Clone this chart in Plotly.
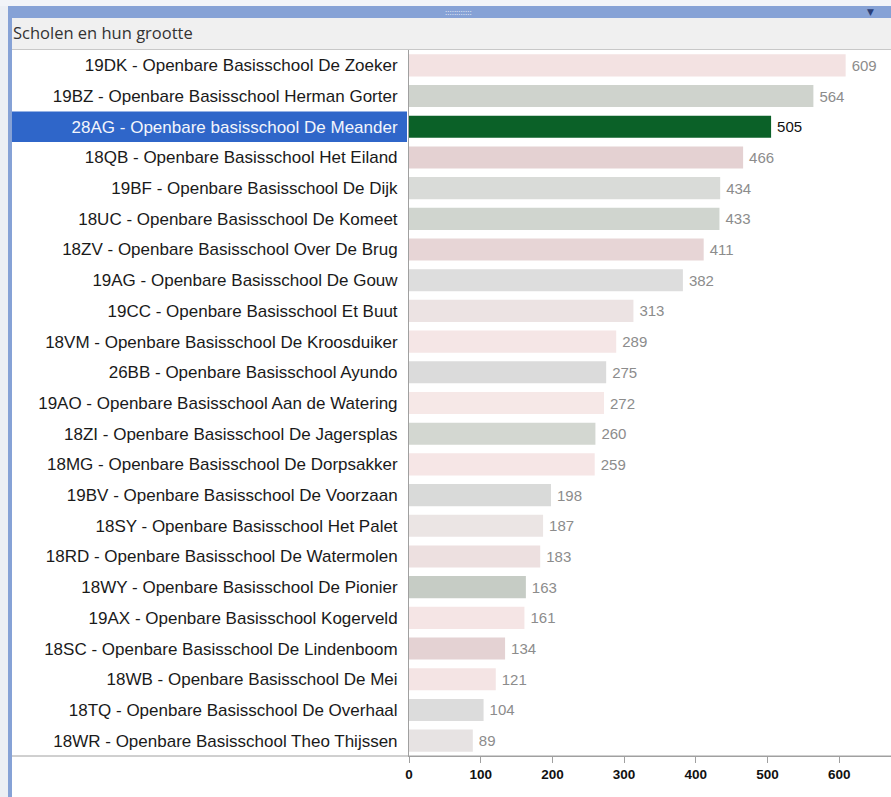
import plotly.graph_objects as go

schools = [
    "19DK - Openbare Basisschool De Zoeker",
    "19BZ - Openbare Basisschool Herman Gorter",
    "28AG - Openbare basisschool De Meander",
    "18QB - Openbare Basisschool Het Eiland",
    "19BF - Openbare Basisschool De Dijk",
    "18UC - Openbare Basisschool De Komeet",
    "18ZV - Openbare Basisschool Over De Brug",
    "19AG - Openbare Basisschool De Gouw",
    "19CC - Openbare Basisschool Et Buut",
    "18VM - Openbare Basisschool De Kroosduiker",
    "26BB - Openbare Basisschool Ayundo",
    "19AO - Openbare Basisschool Aan de Watering",
    "18ZI - Openbare Basisschool De Jagersplas",
    "18MG - Openbare Basisschool De Dorpsakker",
    "19BV - Openbare Basisschool De Voorzaan",
    "18SY - Openbare Basisschool Het Palet",
    "18RD - Openbare Basisschool De Watermolen",
    "18WY - Openbare Basisschool De Pionier",
    "19AX - Openbare Basisschool Kogerveld",
    "18SC - Openbare Basisschool De Lindenboom",
    "18WB - Openbare Basisschool De Mei",
    "18TQ - Openbare Basisschool De Overhaal",
    "18WR - Openbare Basisschool Theo Thijssen",
]
students = [609, 564, 505, 466, 434, 433, 411, 382, 313, 289, 275, 272,
            260, 259, 198, 187, 183, 163, 161, 134, 121, 104, 89]
selected_school = "28AG - Openbare basisschool De Meander"
x_ticks = [0, 100, 200, 300, 400, 500, 600]

bar_colors = ["#f3e2e2", "#cfd3cd", "#0b6128", "#e4d1d2", "#d9dbd8", "#d0d5cf",
              "#e7d5d6", "#dddddd", "#ece3e3", "#f5e6e6", "#dbdbdb", "#f6e8e7",
              "#d3d7d1", "#f6e6e6", "#d9dad9", "#ebe5e4", "#ede0e0", "#c6ccc5",
              "#f5e5e5", "#e4d2d3", "#f4e4e4", "#dcdcdc", "#e7e3e3"]

W, H = 891, 797
L, R, T, B = 409, 891, 50, 756
PW, PH = R - L, B - T


def px(x):
    return (x - L) / PW


def py(y):
    return (B - y) / PH


sel_idx = schools.index(selected_school)
label_colors = ["#111111" if s == selected_school else "#8c8c8c" for s in schools]
ticktext = [f"<span style='color:#f2f5fc'>{s}</span>" if s == selected_school else s
            for s in schools]

fig = go.Figure(go.Bar(
    y=list(range(len(schools))),
    x=students,
    orientation="h",
    width=0.72,
    marker=dict(color=bar_colors, line=dict(width=0)),
    text=[f"\u2009{v}" for v in students],
    textposition="outside",
    textfont=dict(family="Liberation Sans, Arial", size=15, color=label_colors),
    cliponaxis=False,
    hoverinfo="skip",
))

shapes = [
    dict(type="rect", xref="paper", yref="paper", x0=px(0), x1=px(8), y0=py(797), y1=py(0),
         fillcolor="#eceff4", line=dict(width=0), layer="below"),
    dict(type="rect", xref="paper", yref="paper", x0=px(0), x1=px(891), y0=py(6), y1=py(0),
         fillcolor="#f2f4f8", line=dict(width=0), layer="below"),
    dict(type="rect", xref="paper", yref="paper", x0=px(8), x1=px(891), y0=py(18), y1=py(6),
         fillcolor="#86a2d6", line=dict(width=0), layer="below"),
    dict(type="rect", xref="paper", yref="paper", x0=px(8), x1=px(12), y0=py(797), y1=py(6),
         fillcolor="#86a2d6", line=dict(width=0), layer="below"),
    dict(type="rect", xref="paper", yref="paper", x0=px(12), x1=px(891), y0=py(49), y1=py(18),
         fillcolor="#f0f0f0", line=dict(width=0), layer="below"),
    dict(type="line", xref="paper", yref="paper", x0=px(12), x1=px(891), y0=py(49.5), y1=py(49.5),
         line=dict(color="#c8c8c8", width=1)),
    dict(type="rect", xref="paper", yref="y", x0=px(12), x1=px(407),
         y0=sel_idx - 0.5, y1=sel_idx + 0.5,
         fillcolor="#2f66c9", line=dict(width=0), layer="below"),
    dict(type="line", xref="paper", yref="paper", x0=px(12), x1=px(891), y0=0, y1=0,
         line=dict(color="#a0a0a0", width=1)),
]

annotations = [
    dict(text="Scholen en hun grootte", xref="paper", yref="paper", x=px(11), y=py(33),
         xanchor="left", yanchor="middle", showarrow=False,
         font=dict(family="Open Sans, Noto Sans", size=16.5, color="#333333")),
    dict(text="::::::::::::", xref="paper", yref="paper", x=px(458), y=py(12),
         xanchor="center", yanchor="middle", showarrow=False,
         font=dict(family="Liberation Sans", size=8, color="#ffffff")),
    dict(text="▼", xref="paper", yref="paper", x=px(870), y=py(12),
         xanchor="center", yanchor="middle", showarrow=False,
         font=dict(family="DejaVu Sans", size=9, color="#2a3f78")),
]

fig.update_layout(
    width=W, height=H,
    margin=dict(l=L, r=W - R, t=T, b=H - B, pad=0),
    paper_bgcolor="#ffffff",
    plot_bgcolor="#ffffff",
    showlegend=False,
    shapes=shapes,
    annotations=annotations,
    xaxis=dict(
        range=[0, PW / 0.717],
        tickvals=x_ticks,
        ticktext=[str(t) for t in x_ticks],
        showgrid=False, zeroline=False,
        showline=True, linecolor="#a0a0a0", linewidth=1,
        ticks="outside", ticklen=6, tickcolor="#a0a0a0",
        tickfont=dict(family="Liberation Sans, Arial", size=13.5,
                      color="#111111", weight="bold"),
        fixedrange=True,
    ),
    yaxis=dict(
        range=[len(schools) - 0.5, -0.5],
        tickvals=list(range(len(schools))),
        ticktext=ticktext,
        showgrid=False, zeroline=False,
        showline=True, linecolor="#a0a0a0", linewidth=1,
        ticks="outside", ticklen=7, tickcolor="rgba(0,0,0,0)",
        tickfont=dict(family="Liberation Sans, Arial", size=17, color="#1a1a1a"),
        fixedrange=True,
    ),
)

fig.write_html("out.html", config={"displayModeBar": False},
               post_script="document.body.style.margin='0';document.body.style.overflow='hidden';")
